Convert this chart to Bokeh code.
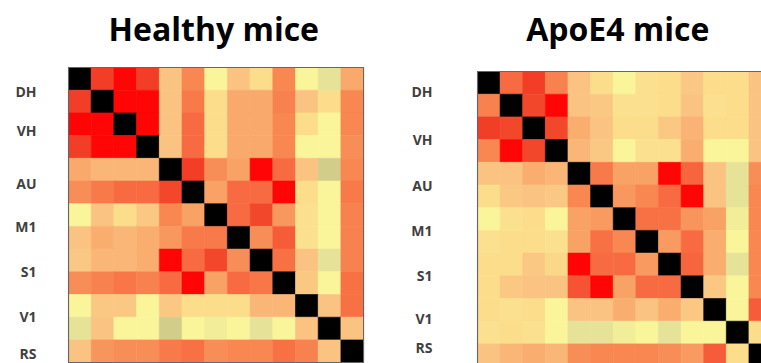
from bokeh.plotting import figure
from bokeh.models import LinearColorMapper, ColumnDataSource, Range1d, FixedTicker, Label
from bokeh.layouts import row
from bokeh.embed import file_html
from bokeh.resources import INLINE

# ---------------- data ----------------
titles = ["Healthy mice", "ApoE4 mice"]
region_labels = ["DH", "VH", "AU", "M1", "S1", "V1", "RS"]
healthy_tick_pos = [1.07, 2.79, 5.13, 7.02, 9.0, 10.98, 12.6]
apoe4_tick_pos = [0.88, 3.0, 5.02, 7.0, 8.99, 10.88, 12.16]

healthy = [
    [1.00, 0.75, 0.90, 0.75, 0.30, 0.50, 0.10, 0.30, 0.20, 0.50, 0.10, 0.05, 0.40],
    [0.75, 1.00, 0.90, 0.90, 0.30, 0.55, 0.20, 0.40, 0.40, 0.52, 0.30, 0.20, 0.50],
    [0.90, 0.90, 1.00, 0.90, 0.30, 0.60, 0.20, 0.40, 0.40, 0.50, 0.20, 0.10, 0.50],
    [0.75, 0.90, 0.90, 1.00, 0.30, 0.60, 0.20, 0.40, 0.40, 0.50, 0.10, 0.10, 0.48],
    [0.40, 0.35, 0.35, 0.35, 1.00, 0.75, 0.48, 0.42, 0.90, 0.60, 0.30, 0.00, 0.50],
    [0.48, 0.55, 0.60, 0.60, 0.72, 1.00, 0.42, 0.60, 0.60, 0.90, 0.20, 0.10, 0.55],
    [0.10, 0.30, 0.20, 0.28, 0.50, 0.42, 1.00, 0.60, 0.72, 0.45, 0.18, 0.10, 0.52],
    [0.30, 0.38, 0.35, 0.38, 0.45, 0.55, 0.55, 1.00, 0.48, 0.65, 0.18, 0.10, 0.52],
    [0.28, 0.35, 0.35, 0.38, 0.90, 0.60, 0.72, 0.48, 1.00, 0.58, 0.30, 0.05, 0.52],
    [0.48, 0.52, 0.56, 0.52, 0.60, 0.90, 0.42, 0.60, 0.56, 1.00, 0.28, 0.10, 0.58],
    [0.10, 0.28, 0.28, 0.10, 0.28, 0.20, 0.20, 0.20, 0.35, 0.35, 1.00, 0.30, 0.58],
    [0.05, 0.30, 0.10, 0.10, 0.00, 0.10, 0.08, 0.10, 0.05, 0.10, 0.30, 1.00, 0.30],
    [0.30, 0.46, 0.48, 0.48, 0.55, 0.58, 0.48, 0.50, 0.50, 0.58, 0.52, 0.30, 1.00],
]

apoe4 = [
    [1.00, 0.60, 0.75, 0.52, 0.30, 0.20, 0.10, 0.18, 0.20, 0.28, 0.20, 0.20, 0.30],
    [0.52, 1.00, 0.72, 0.90, 0.30, 0.28, 0.18, 0.18, 0.20, 0.30, 0.18, 0.20, 0.30],
    [0.75, 0.72, 1.00, 0.72, 0.38, 0.30, 0.20, 0.20, 0.28, 0.36, 0.20, 0.20, 0.30],
    [0.50, 0.90, 0.72, 1.00, 0.35, 0.28, 0.10, 0.18, 0.18, 0.38, 0.10, 0.10, 0.30],
    [0.30, 0.30, 0.38, 0.35, 1.00, 0.55, 0.42, 0.42, 0.90, 0.62, 0.30, 0.05, 0.48],
    [0.20, 0.28, 0.30, 0.28, 0.50, 1.00, 0.45, 0.50, 0.60, 0.90, 0.30, 0.05, 0.50],
    [0.10, 0.18, 0.20, 0.10, 0.42, 0.44, 1.00, 0.58, 0.58, 0.46, 0.42, 0.08, 0.50],
    [0.18, 0.20, 0.20, 0.18, 0.42, 0.58, 0.50, 1.00, 0.44, 0.60, 0.38, 0.10, 0.50],
    [0.20, 0.20, 0.28, 0.22, 0.90, 0.60, 0.60, 0.44, 1.00, 0.62, 0.38, 0.05, 0.50],
    [0.20, 0.28, 0.30, 0.30, 0.68, 0.90, 0.42, 0.60, 0.60, 1.00, 0.28, 0.10, 0.50],
    [0.20, 0.18, 0.20, 0.10, 0.30, 0.30, 0.38, 0.30, 0.38, 0.28, 1.00, 0.10, 0.65],
    [0.18, 0.20, 0.18, 0.10, 0.05, 0.05, 0.08, 0.10, 0.05, 0.10, 0.10, 1.00, 0.20],
    [0.30, 0.35, 0.38, 0.35, 0.48, 0.50, 0.50, 0.50, 0.48, 0.44, 0.65, 0.20, 1.00],
]

# ---------------- colour map ----------------
anchors = [
    (0.00, "#D2CE8A"), (0.05, "#E6E398"), (0.10, "#FAF59A"), (0.20, "#FBDC8C"),
    (0.30, "#FBC382"), (0.40, "#F9A96B"), (0.50, "#F88752"), (0.60, "#F86B42"),
    (0.75, "#F23E27"), (0.90, "#FF0505"),
]


def hex2rgb(h):
    return tuple(int(h[i:i + 2], 16) for i in (1, 3, 5))


def build_palette(n=256):
    lo, hi = anchors[0][0], anchors[-1][0]
    pal = []
    for k in range(n):
        t = lo + (hi - lo) * k / (n - 1)
        for (a, ca), (b, cb) in zip(anchors[:-1], anchors[1:]):
            if a <= t <= b:
                f = (t - a) / (b - a)
                r1, g1, b1 = hex2rgb(ca)
                r2, g2, b2 = hex2rgb(cb)
                pal.append("#%02x%02x%02x" % (round(r1 + (r2 - r1) * f),
                                               round(g1 + (g2 - g1) * f),
                                               round(b1 + (b2 - b1) * f)))
                break
    return pal


mapper = LinearColorMapper(palette=build_palette(), low=0.0, high=0.9,
                           high_color="black", low_color="#D2CE8A")

CELL = 22.7   # px per matrix cell
FIG_H = 363
PAD = 1.0 / CELL
TITLE_BASELINE = 28  # px from top of page


def panel(title, mat, tick_pos, width, frame_left, grid_top, frame_right, standoff, title_x):
    n = len(mat)
    frame_w = width - frame_left - frame_right
    xs, ys, vs = [], [], []
    for i, r in enumerate(mat):
        for j, v in enumerate(r):
            xs.append(j + 0.5)
            ys.append(i + 0.5)
            vs.append(v)
    src = ColumnDataSource(dict(x=xs, y=ys, v=vs))
    p = figure(width=width, height=FIG_H, output_backend="svg", toolbar_location=None,
               x_range=Range1d(-PAD, -PAD + frame_w / CELL),
               y_range=Range1d((FIG_H - grid_top) / CELL, -grid_top / CELL),
               x_axis_location=None, y_axis_location="left",
               min_border_left=frame_left, min_border_right=frame_right,
               min_border_top=0, min_border_bottom=0,
               background_fill_color="white", border_fill_color="white")
    p.outline_line_color = None
    p.grid.visible = False
    p.rect(x="x", y="y", width=1, height=1, source=src,
           fill_color={"field": "v", "transform": mapper},
           line_color={"field": "v", "transform": mapper}, line_width=0.6)
    p.quad(left=[0], right=[n], top=[0], bottom=[n], fill_color=None,
           line_color="#666666", line_width=1.2)
    ax = p.yaxis[0]
    ax.ticker = FixedTicker(ticks=tick_pos)
    ax.major_label_overrides = {t: lab for t, lab in zip(tick_pos, region_labels)}
    ax.axis_line_color = None
    ax.major_tick_line_color = None
    ax.minor_tick_line_color = None
    ax.major_tick_out = 0
    ax.major_tick_in = 0
    ax.major_label_standoff = standoff
    ax.major_label_text_font = "Open Sans"
    ax.major_label_text_font_style = "bold"
    ax.major_label_text_font_size = "14px"
    ax.major_label_text_color = "#404040"
    ty = -(grid_top - TITLE_BASELINE) / CELL
    p.add_layout(Label(x=title_x, y=ty, text=title, text_align="center",
                       text_baseline="alphabetic", text_font="Open Sans",
                       text_font_style="bold", text_font_size="32px",
                       text_color="black"))
    return p


p1 = panel(titles[0], healthy, healthy_tick_pos, 408, 67, 67, 44, 31, 6.4)
p2 = panel(titles[1], apoe4, apoe4_tick_pos, 353, 67, 71, 0, 44, 6.2)
layout = row(p1, p2)

open("out.html", "w").write(file_html(layout, INLINE))
